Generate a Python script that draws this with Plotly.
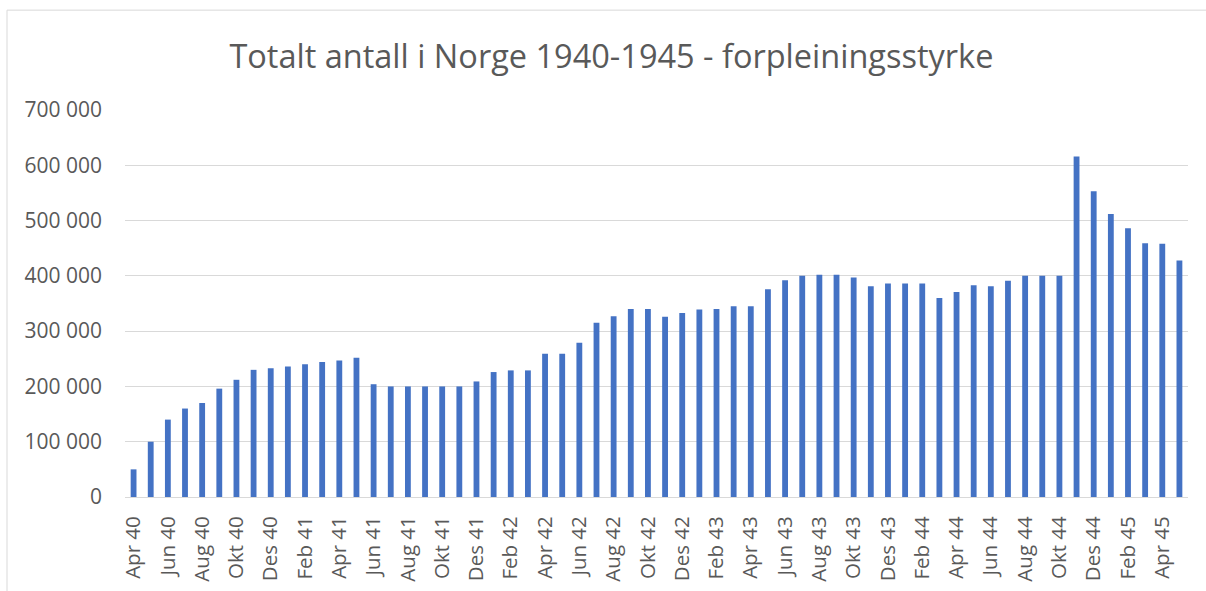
import plotly.graph_objects as go

# Monthly strength, April 1940 - May 1945
months = [
    "Apr 40", "Mai 40", "Jun 40", "Jul 40", "Aug 40", "Sep 40", "Okt 40", "Nov 40", "Des 40",
    "Jan 41", "Feb 41", "Mar 41", "Apr 41", "Mai 41", "Jun 41", "Jul 41", "Aug 41", "Sep 41",
    "Okt 41", "Nov 41", "Des 41",
    "Jan 42", "Feb 42", "Mar 42", "Apr 42", "Mai 42", "Jun 42", "Jul 42", "Aug 42", "Sep 42",
    "Okt 42", "Nov 42", "Des 42",
    "Jan 43", "Feb 43", "Mar 43", "Apr 43", "Mai 43", "Jun 43", "Jul 43", "Aug 43", "Sep 43",
    "Okt 43", "Nov 43", "Des 43",
    "Jan 44", "Feb 44", "Mar 44", "Apr 44", "Mai 44", "Jun 44", "Jul 44", "Aug 44", "Sep 44",
    "Okt 44", "Nov 44", "Des 44",
    "Jan 45", "Feb 45", "Mar 45", "Apr 45", "Mai 45",
]
strength = [
    50000, 100000, 140000, 160000, 170000, 196000, 212000, 230000, 233000,
    236000, 240000, 244000, 247000, 252000, 204000, 200000, 200000, 200000,
    200000, 200000, 209000,
    226000, 229000, 229000, 259000, 259000, 279000, 315000, 327000, 340000,
    340000, 326000, 333000,
    339000, 340000, 345000, 345000, 376000, 392000, 400000, 402000, 402000,
    397000, 381000, 386000,
    386000, 386000, 360000, 371000, 383000, 381000, 391000, 400000, 400000,
    400000, 616000, 553000,
    512000, 486000, 459000, 458000, 428000,
]
shown_ticks = months[::2]
y_ticks = [0, 100000, 200000, 300000, 400000, 500000, 600000, 700000]

GRAY = "#595959"
FONT = "Open Sans"

fig = go.Figure(go.Bar(
    x=months,
    y=strength,
    marker={"color": "#4472C4", "line": {"width": 0}},
))

fig.update_layout(
    width=1206,
    height=591,
    paper_bgcolor="white",
    plot_bgcolor="white",
    separators=", ",
    bargap=0.66,
    showlegend=False,
    margin={"l": 125, "r": 18, "t": 110, "b": 94},
    font={"family": FONT, "color": GRAY},
    title={
        "text": "Totalt antall i Norge 1940-1945 - forpleiningsstyrke",
        "x": 0.507,
        "xanchor": "center",
        "y": 0.905,
        "yanchor": "middle",
        "font": {"family": FONT, "size": 32.5, "color": GRAY},
    },
    shapes=[
        {"type": "line", "xref": "paper", "yref": "paper", "x0": -0.111, "x1": 1.02,
         "y0": 1.258, "y1": 1.258, "line": {"color": "#D9D9D9", "width": 1}},
        {"type": "line", "xref": "paper", "yref": "paper", "x0": -0.111, "x1": -0.111,
         "y0": 1.258, "y1": -0.3, "line": {"color": "#D9D9D9", "width": 1}},
    ],
)

fig.update_xaxes(
    type="category",
    tickmode="array",
    tickvals=shown_ticks,
    ticktext=shown_ticks,
    tickangle=-90,
    tickfont={"size": 20.5, "color": GRAY},
    showgrid=False,
    showline=True,
    linecolor="#D9D9D9",
    linewidth=1,
    ticks="",
    ticklabelstandoff=10,
    automargin=False,
)
fig.update_yaxes(
    range=[0, 700000],
    tickvals=y_ticks,
    tickformat=",d",
    tickfont={"size": 21, "color": GRAY},
    showgrid=True,
    gridcolor="#D9D9D9",
    gridwidth=1,
    zeroline=False,
    showline=False,
    ticks="",
    ticklabelstandoff=22,
    automargin=False,
)

fig.write_html(
    "out.html",
    config={"displayModeBar": False},
    post_script="document.body.style.margin='0';",
)
